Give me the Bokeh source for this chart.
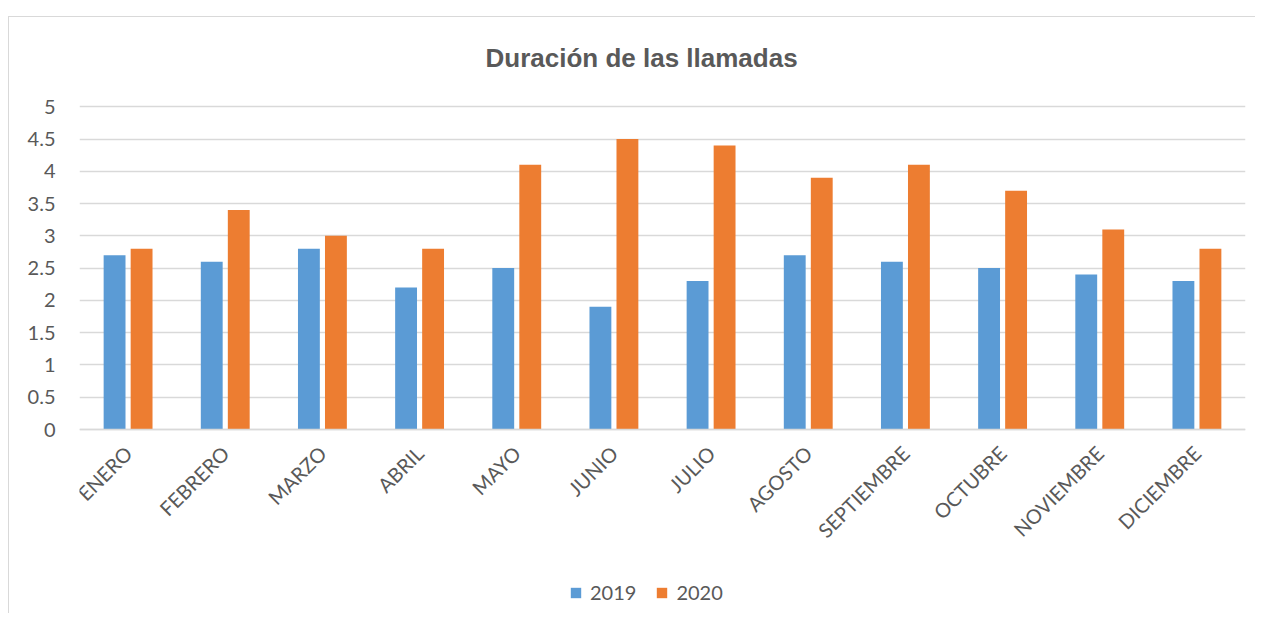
from bokeh.plotting import figure
from bokeh.models import ColumnDataSource, FactorRange, Range1d, Legend, LegendItem, FixedTicker
from bokeh.transform import dodge
from bokeh.embed import file_html
from bokeh.resources import INLINE
import math

months = ["ENERO", "FEBRERO", "MARZO", "ABRIL", "MAYO", "JUNIO", "JULIO",
          "AGOSTO", "SEPTIEMBRE", "OCTUBRE", "NOVIEMBRE", "DICIEMBRE"]
v2019 = [2.7, 2.6, 2.8, 2.2, 2.5, 1.9, 2.3, 2.7, 2.6, 2.5, 2.4, 2.3]
v2020 = [2.8, 3.4, 3.0, 2.8, 4.1, 4.5, 4.4, 3.9, 4.1, 3.7, 3.1, 2.8]
y_ticks = [0, 0.5, 1, 1.5, 2, 2.5, 3, 3.5, 4, 4.5, 5]
series_names = ["2019", "2020"]

BLUE = "#5B9BD5"
ORANGE = "#ED7D31"
GRID = "#d9d9d9"
TXT = "#595959"

src = ColumnDataSource(dict(m=months, a=v2019, b=v2020))

# frame extends below the zero line so the legend (inside the frame) is not clipped
p = figure(x_range=FactorRange(*months), y_range=Range1d(-2.85, 5.05),
           frame_width=1166, frame_height=510, output_backend="svg", toolbar_location=None,
           min_border_left=79, min_border_right=10, min_border_top=103, min_border_bottom=0)

r1 = p.vbar(x=dodge("m", -0.139, range=p.x_range), top="a", width=0.225, source=src,
            fill_color=BLUE, line_color=None)
r2 = p.vbar(x=dodge("m", 0.139, range=p.x_range), top="b", width=0.225, source=src,
            fill_color=ORANGE, line_color=None)

p.title.text = "Duración de las llamadas"
p.title.align = "left"
p.title.offset = 406
p.title.standoff = 62
p.title.text_font = "Liberation Sans"
p.title.text_font_style = "bold"
p.title.text_font_size = "26px"
p.title.text_color = TXT

p.outline_line_color = None
p.border_fill_alpha = 0
p.background_fill_alpha = 0
p.styles = {
    "background": "linear-gradient(#d9d9d9, #d9d9d9) 8px 16px / 1px 100% no-repeat, "
                  "linear-gradient(#d9d9d9, #d9d9d9) 8px 16px / 100% 1px no-repeat, #ffffff"
}

p.xgrid.grid_line_color = None
p.ygrid.grid_line_color = GRID
p.ygrid.grid_line_width = 1.5
p.ygrid.ticker = FixedTicker(ticks=y_ticks)
p.yaxis.ticker = FixedTicker(ticks=y_ticks)
p.yaxis.axis_line_color = None
p.yaxis.major_tick_line_color = None
p.yaxis.minor_tick_line_color = None
p.yaxis.major_label_text_font = "Lato"
p.yaxis.major_label_text_font_size = "20px"
p.yaxis.major_label_text_color = TXT
p.yaxis.major_label_standoff = 18

p.xaxis.fixed_location = 0
p.xaxis.axis_line_color = GRID
p.xaxis.axis_line_width = 1.5
p.xaxis.major_tick_line_color = None
p.xaxis.minor_tick_line_color = None
p.xaxis.major_label_orientation = math.pi / 4
p.xaxis.major_label_text_font = "Lato"
p.xaxis.major_label_text_font_size = "20px"
p.xaxis.major_label_text_color = TXT
p.xaxis.major_label_standoff = 14

legend = Legend(items=[LegendItem(label=series_names[0], renderers=[r1]),
                       LegendItem(label=series_names[1], renderers=[r2])],
                orientation="horizontal", location=(490, 9),
                label_text_font="Lato", label_text_font_size="20px",
                label_text_color=TXT, glyph_width=13, glyph_height=13,
                label_standoff=8, spacing=19, padding=0, margin=0,
                border_line_color=None, background_fill_alpha=0)
p.add_layout(legend, "center")

open("out.html", "w").write(file_html(p, INLINE))
